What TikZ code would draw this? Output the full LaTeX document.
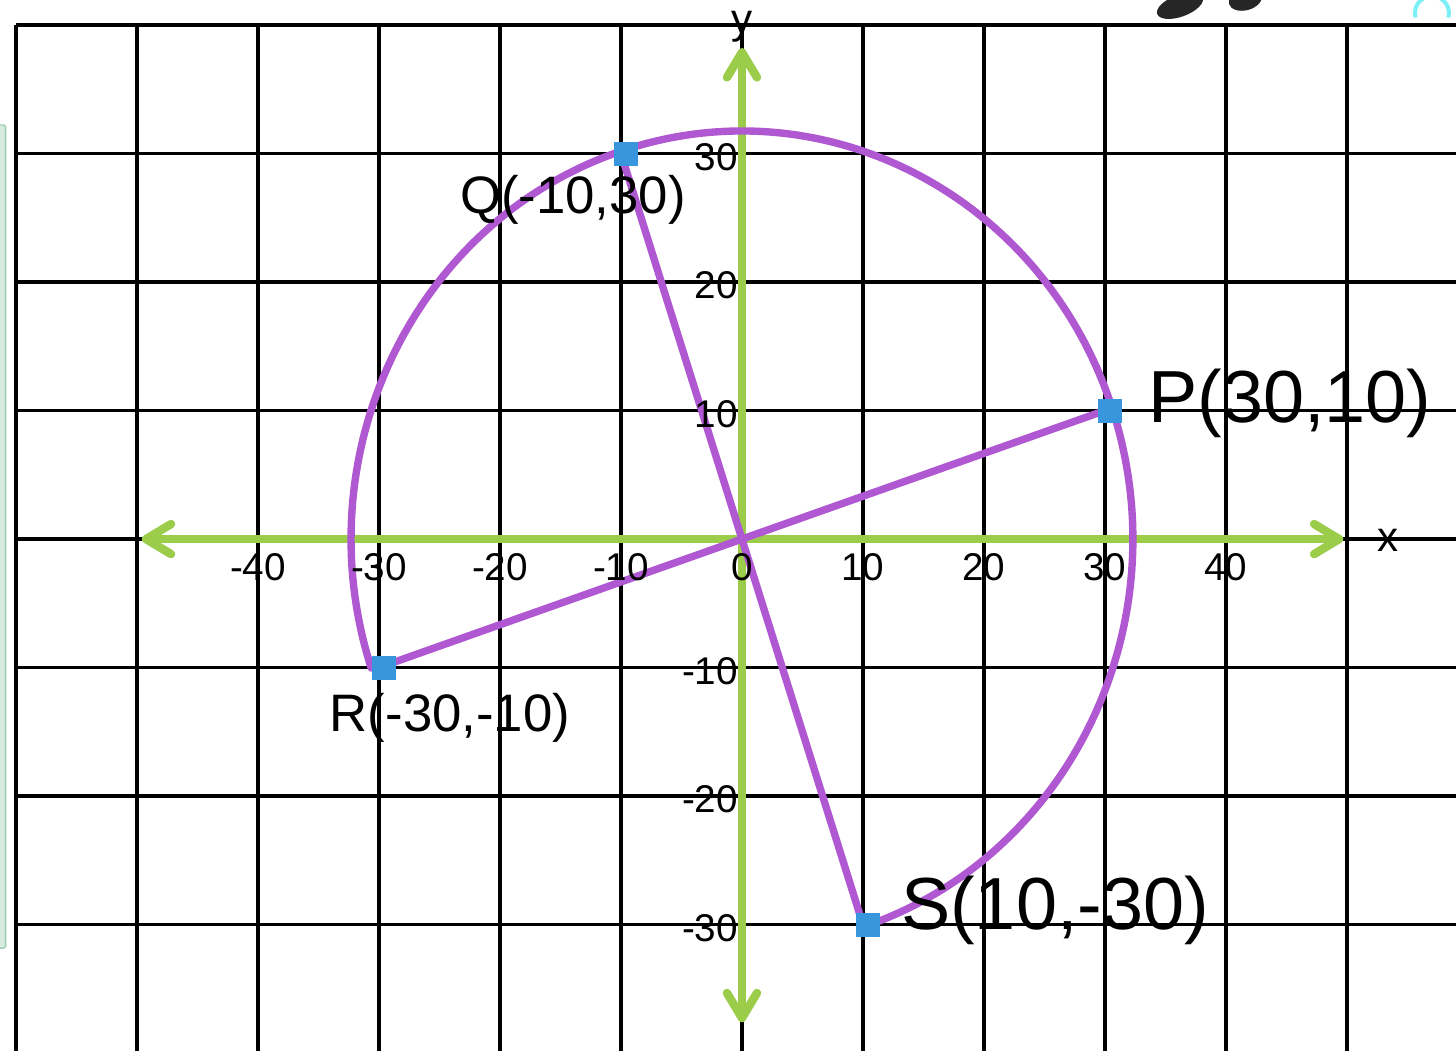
\documentclass[tikz,border=0pt]{standalone}
\usepackage{fontspec}
\setmainfont{Liberation Sans}
\usetikzlibrary{arrows.meta}
\definecolor{axisgreen}{HTML}{9BCD4B}
\definecolor{chordpurple}{HTML}{AF58D2}
\definecolor{dotblue}{HTML}{3A96DC}
\definecolor{panelgreen}{HTML}{D5ECDF}
\definecolor{paneledge}{HTML}{9CCFB2}
\definecolor{ringcyan}{HTML}{7DF0F7}
\begin{document}
\begin{tikzpicture}[x=0.242cm, y=0.257cm,
  gridline/.style={line width=2.1pt},
  barb/.tip={Straight Barb[length=5mm, width=6mm, line cap=round, line join=round]},
  axisline/.style={axisgreen, line width=4.8pt, line cap=round, barb-barb},
  chord/.style={chordpurple, line width=4.2pt, line cap=round},
  dot/.style={fill=dotblue, minimum size=0.48cm, inner sep=0pt, xshift=0.11cm},
  ticklabel/.style={font=\fontsize{22}{22}\selectfont, inner sep=0pt},
  ptlabel/.style={font=\fontsize{30}{30}\selectfont, inner sep=0pt},
  biglabel/.style={font=\fontsize{42}{42}\selectfont, inner sep=0pt}]
  \useasboundingbox (-61.32,-39.77) rectangle (59.01,41.95);
  \clip (-61.32,-39.77) rectangle (59.01,41.95);
  \fill[white] (-61.32,-39.77) rectangle (59.01,41.95);
  \draw[paneledge, fill=panelgreen, rounded corners=1pt, line width=0.8pt] (-61.5,32.22) rectangle (-60.85,-31.83);
  \fill[black!85, rotate around={20:(36.2,41.5)}] (36.2,41.5) ellipse (2 and 0.85);
  \fill[black!85, rotate around={15:(41.6,42)}] (41.6,42) ellipse (1.4 and 0.85);
  \draw[ringcyan, line width=2.3pt] (57.02,40.93) ++(-15:0.34cm) arc[start angle=-15, end angle=195, radius=0.34cm];
  \foreach \gx in {-60,-50,...,50} \draw[gridline] (\gx,40) -- (\gx,-41);
  \foreach \gy in {-30,-20,...,40} \draw[gridline] (-60,\gy) -- (61,\gy);
  \coordinate (xl) at (-49.6,0);
  \coordinate (xr) at (49.7,0);
  \coordinate (yb) at (0,-37.6);
  \coordinate (yt) at (0,38.2);
  \draw[axisline] (xl) -- (xr);
  \draw[axisline] (yb) -- (yt);
  \coordinate (O) at (0,0);
  \coordinate (P) at (30,10);
  \coordinate (Q) at (-10,30);
  \coordinate (R) at (-30,-10);
  \coordinate (S) at (10,-30);
  \draw[chord] (O) ++(-71.565:32.3 and 31.75) arc[start angle=-71.565, end angle=198.435, x radius=32.3, y radius=31.75];
  \draw[chord] (P) -- (R);
  \draw[chord] (Q) -- (S);
  \foreach \p in {P,Q,R,S} \node[dot] (\p sq) at (\p) {};
  \foreach \t [count=\i] in {-40,-30,...,40} \node[ticklabel] (xt\i) at (\t,-2.2) {\t};
  \foreach \t [count=\i] in {-30,-20,-10,10,20,30} \node[ticklabel, anchor=east] (yt\i) at (-0.3,\t-0.25) {\t};
  \node[ticklabel, font=\fontsize{24}{24}\selectfont] (xname) at (53.4,-0.1) {x};
  \node[ticklabel, font=\fontsize{24}{24}\selectfont] (yname) at (0,39.85) {y};
  \node[ptlabel] (Qlab) at (-13.97,26.38) {Q(-10,30)};
  \node[ptlabel] (Rlab) at (-24.13,-13.93) {R(-30,-10)};
  \node[biglabel] (Plab) at (45.29,10.58) {P(30,10)};
  \node[biglabel] (Slab) at (25.87,-28.87) {S(10,-30)};
\end{tikzpicture}
\end{document}
